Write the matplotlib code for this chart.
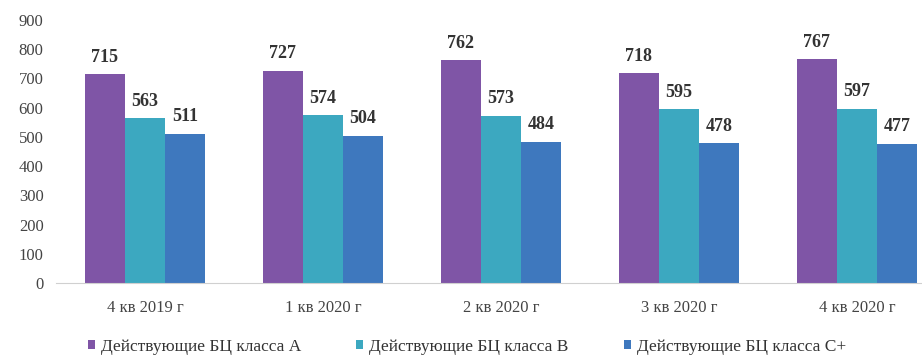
import matplotlib.pyplot as plt
import numpy as np

plt.rcParams['font.family'] = ['Liberation Serif', 'DejaVu Serif']

quarters = ['4 кв 2019 г', '1 кв 2020 г', '2 кв 2020 г', '3 кв 2020 г', '4 кв 2020 г']
class_a = [715, 727, 762, 718, 767]
class_b = [563, 574, 573, 595, 597]
class_c = [511, 504, 484, 478, 477]
series_names = ['Действующие БЦ класса А', 'Действующие БЦ класса В', 'Действующие БЦ класса С+']
colors = ['#7F55A6', '#3CA8C0', '#3E78BE']

fig = plt.figure(figsize=(9.22, 3.58), dpi=100)
ax = fig.add_axes([56 / 922, 1 - 283 / 358, 1 - 56 / 922, 263 / 358])

x = np.arange(len(quarters))
w = 0.225
for i, (vals, name, c) in enumerate(zip([class_a, class_b, class_c], series_names, colors)):
    bars = ax.bar(x + (i - 1) * w, vals, w, color=c, label=name)
    for b, v in zip(bars, vals):
        ax.annotate(str(v), (b.get_x() + b.get_width() / 2, v), xytext=(0, 6),
                    textcoords='offset points', ha='center', va='bottom',
                    fontsize=13, fontweight='bold', color='#333333')

ax.set_ylim(0, 900)
ax.set_yticks(range(0, 901, 100))
ax.set_xlim(-0.5, 4.365)
ax.set_xticks(x)
ax.set_xticklabels(quarters)
ax.tick_params(length=0, labelsize=12, colors='#444444')
ax.tick_params(axis='x', pad=12)
ax.tick_params(axis='y', pad=9)
for s in ['top', 'right', 'left']:
    ax.spines[s].set_visible(False)
ax.spines['bottom'].set_color('#d0d0d0')

fig.legend(loc='center left', bbox_to_anchor=(72 / 922, 1 - 347 / 358), ncol=3, frameon=False,
           fontsize=12.5, handlelength=0.4, handleheight=0.4, handletextpad=0.35,
           columnspacing=3.2, labelcolor='#333333')

fig.savefig('out.png', dpi=100)
